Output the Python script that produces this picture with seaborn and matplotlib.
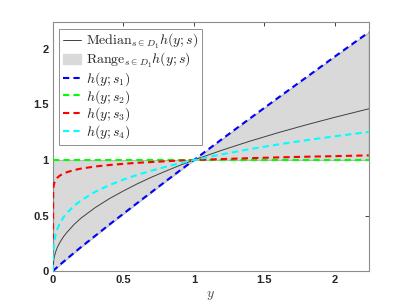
import numpy as np
import pandas as pd
import seaborn as sns
import matplotlib.pyplot as plt
from matplotlib.patches import Patch
from matplotlib.lines import Line2D

# sample points along y
y = [0, 0.002, 0.005, 0.01, 0.02, 0.03, 0.05, 0.075, 0.1, 0.15, 0.2, 0.3, 0.4,
     0.5, 0.6, 0.7, 0.8, 0.9, 1.0, 1.2, 1.4, 1.6, 1.8, 2.0, 2.24]

h_s1 = [0, 0.003, 0.007, 0.013, 0.024, 0.036, 0.058, 0.085, 0.112, 0.165, 0.217,
        0.318, 0.419, 0.517, 0.615, 0.712, 0.809, 0.905, 1.0, 1.189, 1.377,
        1.563, 1.747, 1.932, 2.150]
h_s2 = [1.0] * 25
h_s3 = [0, 0.733, 0.767, 0.794, 0.822, 0.839, 0.861, 0.879, 0.891, 0.910, 0.923,
        0.942, 0.955, 0.966, 0.975, 0.982, 0.989, 0.995, 1.0, 1.009, 1.017,
        1.024, 1.030, 1.035, 1.042]
h_s4 = [0, 0.176, 0.227, 0.275, 0.335, 0.375, 0.432, 0.484, 0.525, 0.588, 0.637,
        0.714, 0.774, 0.824, 0.867, 0.905, 0.939, 0.971, 1.0, 1.052, 1.099,
        1.141, 1.179, 1.214, 1.253]
median = [0, 0.06, 0.09, 0.13, 0.175, 0.21, 0.26, 0.31, 0.35, 0.42, 0.478,
          0.572, 0.652, 0.722, 0.787, 0.846, 0.900, 0.952, 1.0, 1.089, 1.171,
          1.247, 1.318, 1.385, 1.461]

df = pd.DataFrame({"y": y, "s1": h_s1, "s2": h_s2, "s3": h_s3, "s4": h_s4,
                   "median": median})
curves = df[["s1", "s2", "s3", "s4"]]
lo = curves.min(axis=1)
hi = curves.max(axis=1)

sns.set_theme(style="white")
plt.rcParams["font.family"] = ["Liberation Sans", "DejaVu Sans"]
plt.rcParams["mathtext.fontset"] = "cm"

fig = plt.figure(figsize=(4.07, 3.05), dpi=100)
ax = fig.add_axes([0.13, 0.111, 0.776, 0.816])

gray = (0.85, 0.85, 0.85)
ax.fill_between(df["y"], lo, hi, color=gray, edgecolor=(0.72, 0.72, 0.72),
                linewidth=0.8, zorder=1)
sns.lineplot(data=df, x="y", y="median", ax=ax, color=(0.25, 0.25, 0.25),
             linewidth=0.7, estimator=None, sort=False, zorder=3)
colors = {"s1": "#0000ff", "s2": "#00ff00", "s3": "#ff0000", "s4": "#00ffff"}
for key, c in colors.items():
    sns.lineplot(data=df, x="y", y=key, ax=ax, color=c, linewidth=1.5,
                 dashes=False, estimator=None, sort=False, zorder=4)
for ln in ax.lines[1:]:
    ln.set_dashes((3, 2))

ax.set_xlim(0, 2.24)
ax.set_ylim(0, 2.24)
ax.set_xticks([0, 0.5, 1, 1.5, 2])
ax.set_yticks([0, 0.5, 1, 1.5, 2])
ax.set_xticklabels(["0", "0.5", "1", "1.5", "2"])
ax.set_yticklabels(["0", "0.5", "1", "1.5", "2"])
ax.tick_params(direction="in", top=True, right=True, length=3, width=0.6,
               colors=(0.15, 0.15, 0.15), labelsize=8, pad=3)
for lab in ax.get_xticklabels() + ax.get_yticklabels():
    lab.set_fontweight("bold")
for sp in ax.spines.values():
    sp.set_color((0.55, 0.55, 0.55))
    sp.set_linewidth(0.8)
ax.set_xlabel("$y$", fontsize=10, color=(0.3, 0.3, 0.3), labelpad=2)
ax.set_ylabel("")

handles = [
    Line2D([], [], color=(0.25, 0.25, 0.25), linewidth=0.7),
    Patch(facecolor=gray, edgecolor=gray),
]
for c in colors.values():
    handles.append(Line2D([], [], color=c, linewidth=1.5, dashes=(3, 2)))
labels = [r"$\mathrm{Median}_{s\in D_1}h(y;s)$",
          r"$\mathrm{Range}_{s\in D_1}h(y;s)$",
          r"$h(y;s_1)$", r"$h(y;s_2)$", r"$h(y;s_3)$", r"$h(y;s_4)$"]
leg = ax.legend(handles, labels, loc="upper left", fontsize=10,
                frameon=True, fancybox=False, borderaxespad=0.45,
                handlelength=1.3, handletextpad=0.4, labelspacing=0.0,
                borderpad=0.25)
leg.get_frame().set_edgecolor((0.45, 0.45, 0.45))
leg.get_frame().set_linewidth(0.7)

fig.savefig("out.png", dpi=100)
